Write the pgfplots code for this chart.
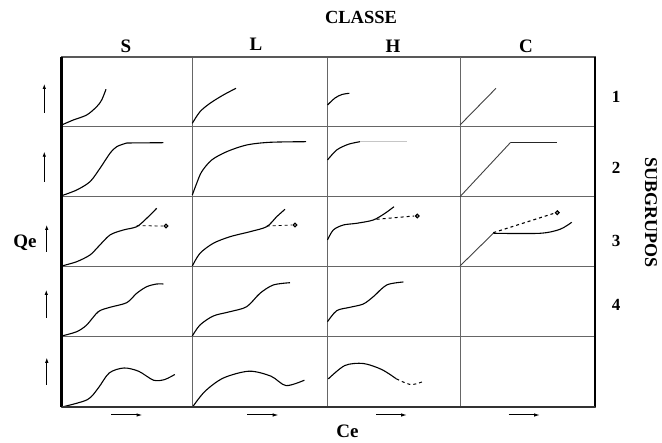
\documentclass[border=0pt]{standalone}
\usepackage{pgfplots}
\pgfplotsset{compat=1.18}
\usepackage{fontspec}
\setmainfont{Liberation Serif}
\usetikzlibrary{arrows.meta}
\tikzset{
  uparrow/.style={black, line width=0.8pt, -{Latex[length=5pt,width=3.5pt]}},
  rarrow/.style={black, line width=1pt, -{Latex[length=6pt,width=3.5pt]}},
}
\begin{document}
\begin{tikzpicture}[x=1pt,y=1pt]
\useasboundingbox (0,0) rectangle (662,443);
\begin{axis}[
  at={(61.5pt,36pt)}, anchor=origin,
  width=533.5pt, height=350pt, scale only axis,
  xmin=61.5, xmax=595, ymin=36, ymax=386,
  xtick={192.3,327.5}, ytick={107,177,247,317},
  xticklabels={}, yticklabels={},
  major tick length=0pt,
  grid=major,
  major grid style={draw=gray!80!black, line width=0.9pt},
  extra x ticks={460}, extra x tick labels={},
  extra x tick style={grid style={draw=black!85, line width=1.6pt}},
  axis line style={draw=gray!70!black, line width=1.2pt},
  clip=false,
  cycle list={{black,mark=none}},
  every axis plot/.append style={black, line width=1.1pt},
]
% ---- row 1
\addplot[smooth] coordinates {(61.7,318) (73.3,323) (86.7,328) (96.7,336.3) (101.7,343) (106,353.7)};
\addplot[smooth] coordinates {(192.3,319.7) (200,331.3) (210,339.7) (223.3,348) (236,354.7)};
\addplot[smooth] coordinates {(327.5,338) (335,345) (342,348.5) (349.3,349.7)};
\addplot[black!75, line width=0.9pt] coordinates {(460,318) (496,354.7)};
% ---- row 2
\addplot[smooth] coordinates {(61.7,247.3) (76.7,253) (90,261.3) (100,274.7) (110,289.7) (116.7,296.3) (126.7,300)};
\addplot coordinates {(126.7,300) (163.3,300.3)};
\addplot[smooth] coordinates {(192.3,248) (196.7,259.7) (201.7,271.3) (211.7,283) (226.7,291.3) (246.7,298) (270,300.7) (306,301.3)};
\addplot[smooth] coordinates {(327.5,283) (336.7,293) (348.3,298.7) (360,301.3)};
\addplot[gray!45, line width=0.8pt] coordinates {(360,301.3) (407.3,301.3)};
\addplot[black!75, line width=0.9pt] coordinates {(460,246.3) (510.7,300.7)};
\addplot[black!85, line width=1pt] coordinates {(510.7,300.7) (556.7,300.7)};
% ---- row 3
\addplot[smooth] coordinates {(61.7,177) (76.7,181.3) (90,188) (98.3,196.3) (110,208) (123.3,213) (136.7,216.3) (146.7,224.7) (156.7,234.7)};
\addplot[dashed, line width=0.8pt] coordinates {(136.7,217.3) (163,217)};
\addplot[only marks, mark=*, mark size=1.8pt, mark options={fill=gray!60, draw=black}] coordinates {(166,217)};
\addplot[smooth] coordinates {(192.3,177) (200,189.7) (213.3,199.7) (230,206.3) (250,211.3) (266.7,216.3) (276.7,226.3) (285,233.7)};
\addplot[dashed, line width=0.8pt] coordinates {(266.7,217) (292,218)};
\addplot[only marks, mark=*, mark size=1.8pt, mark options={fill=gray!60, draw=black}] coordinates {(295,218)};
\addplot[smooth] coordinates {(327.5,203) (333.3,213) (343.3,218) (356.7,219.7) (373.3,223) (385,229.7) (394,236.3)};
\addplot[dashed, line width=1pt] coordinates {(376.7,223.7) (414,227)};
\addplot[only marks, mark=*, mark size=1.8pt, mark options={fill=gray!60, draw=black}] coordinates {(417.3,227)};
\addplot[black!75, line width=0.9pt] coordinates {(460,177) (493.3,209.7)};
\addplot[smooth] coordinates {(493.3,209.7) (540,209.7) (560,213.7) (571.7,220.7)};
\addplot[dashed, line width=1.1pt] coordinates {(493.3,210.3) (554,229.7)};
\addplot[only marks, mark=*, mark size=1.9pt, mark options={fill=gray!60, draw=black}] coordinates {(557.3,230.3)};
% ---- row 4
\addplot[smooth] coordinates {(61.7,107) (76.7,111.3) (86.7,118) (98.3,131.3) (110,135.7) (126.7,140.3) (136.7,149.7) (146.7,156.3) (156.7,159) (163.3,159)};
\addplot[smooth] coordinates {(192.3,107) (200,118) (213.3,127) (230,131.3) (246.7,136.3) (260,149.7) (273.3,158) (290,160.3)};
\addplot[smooth] coordinates {(327.5,121.3) (336.7,132.3) (350,135.7) (363.3,139) (373.3,146.3) (386.7,158) (403.3,161)};
% ---- row 5
\addplot[smooth] coordinates {(62,36) (87.3,43.3) (98.3,55) (109.3,70.1) (124,75) (138.7,71.7) (153.5,62.8) (164.5,63.4) (174.8,68.5)};
\addplot[smooth] coordinates {(193,36.6) (205,51.7) (223.4,65) (249.2,71.8) (271,66.8) (286,57.4) (304.4,62.8)};
\addplot[smooth] coordinates {(328.3,64.1) (344.9,77.5) (363.3,79.5) (381.7,73.5) (396.4,64.1)};
\addplot[smooth, dashed, line width=1pt] coordinates {(396.4,64.1) (411,58.4) (424,61.8)};
% ---- borders
\draw[black, line width=2.6pt] (axis cs:61.5,36) -- (axis cs:61.5,386);
\draw[black, line width=2.6pt] (axis cs:595,36) -- (axis cs:595,386);
\draw[black!80, line width=1.6pt] (axis cs:61.5,36) -- (axis cs:595,36);
% ---- arrows
\draw[uparrow] (axis cs:44.3,330) -- (axis cs:44.3,359);
\draw[uparrow] (axis cs:44.3,261.3) -- (axis cs:44.3,291.3);
\draw[uparrow] (axis cs:46.7,191) -- (axis cs:46.7,218);
\draw[uparrow] (axis cs:46.3,125.3) -- (axis cs:46.3,153);
\draw[uparrow] (axis cs:46.8,58.4) -- (axis cs:46.8,85.2);
\draw[rarrow] (axis cs:111,28) -- (axis cs:142.5,28);
\draw[rarrow] (axis cs:247.3,28) -- (axis cs:278.6,28);
\draw[rarrow] (axis cs:376,28) -- (axis cs:407,28);
\draw[rarrow] (axis cs:508.6,28) -- (axis cs:540,28);
% ---- labels
\node[font=\fontsize{18.5}{18.5}\selectfont\bfseries] at (axis cs:361,426) {CLASSE};
\node[font=\fontsize{19}{19}\selectfont\bfseries] at (axis cs:126,397) {S};
\node[font=\fontsize{19}{19}\selectfont\bfseries] at (axis cs:256,399) {L};
\node[font=\fontsize{19}{19}\selectfont\bfseries] at (axis cs:393,397) {H};
\node[font=\fontsize{19}{19}\selectfont\bfseries] at (axis cs:526,397) {C};
\node[font=\fontsize{17}{17}\selectfont\bfseries] at (axis cs:616,346) {1};
\node[font=\fontsize{17}{17}\selectfont\bfseries] at (axis cs:616,275) {2};
\node[font=\fontsize{17}{17}\selectfont\bfseries] at (axis cs:616,202) {3};
\node[font=\fontsize{17}{17}\selectfont\bfseries] at (axis cs:616,138) {4};
\node[font=\fontsize{18}{18}\selectfont\bfseries, rotate=-90] at (axis cs:651,230) {SUBGRUPOS};
\node[font=\fontsize{19}{19}\selectfont\bfseries] at (axis cs:25,200) {Qe};
\node[font=\fontsize{19}{19}\selectfont\bfseries] at (axis cs:347.5,11.5) {Ce};
\end{axis}
\end{tikzpicture}
\end{document}
